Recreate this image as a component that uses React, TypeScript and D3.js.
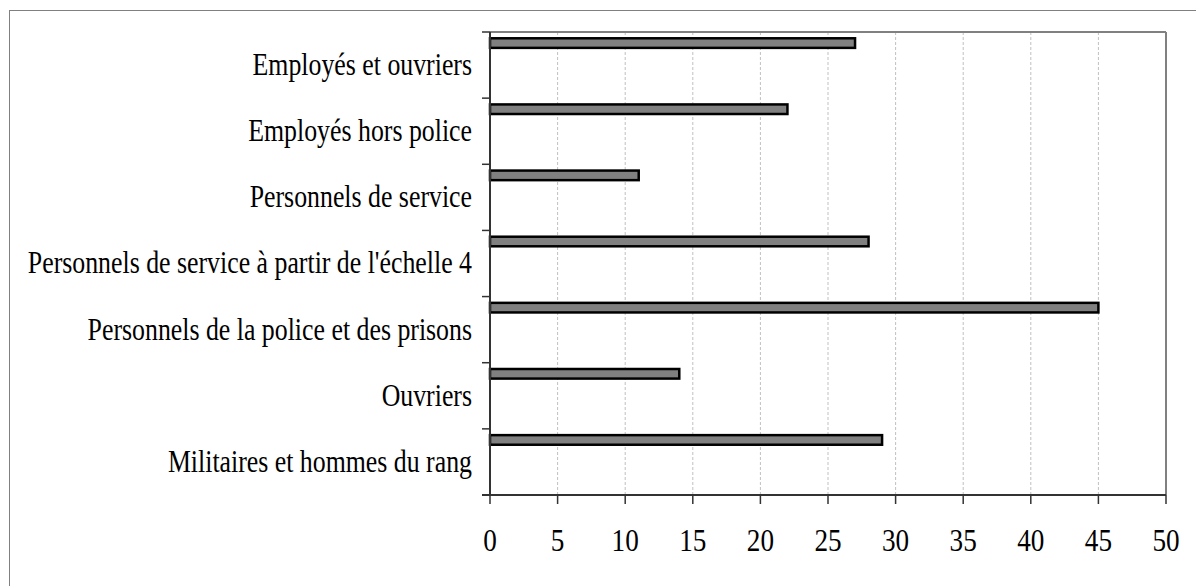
import React from 'react';
import * as d3 from 'd3';

const categories = [
  'Employés et ouvriers',
  'Employés hors police',
  'Personnels de service',
  "Personnels de service à partir de l'échelle 4",
  'Personnels de la police et des prisons',
  'Ouvriers',
  'Militaires et hommes du rang',
];
const values = [27, 22, 11, 28, 45, 14, 29];
const xTicks = [0, 5, 10, 15, 20, 25, 30, 35, 40, 45, 50];

const W = 1196;
const H = 586;
const left = 490;
const right = 1166;
const top = 32;
const bottom = 495;
const textStyle = { fontFamily: 'Liberation Serif', fill: '#000' };

const App = () => {
  const x = d3.scaleLinear().domain([0, 50]).range([left, right]);
  const y = d3.scaleBand<string>().domain(categories).range([top, bottom]).padding(0);
  const bw = y.bandwidth();
  const boundaries = categories.map((c) => y(c) as number).concat([bottom]);

  return (
    <svg
      width={W}
      height={H}
      style={{ position: 'absolute', left: 0, top: 0, background: '#fff' }}
    >
      {/* outer frame, runs off the page on right/bottom */}
      <rect x={9.5} y={10.5} width={1300} height={700} fill="none" stroke="#808080" strokeWidth={1} />

      {/* gridlines */}
      {xTicks.slice(1, -1).map((t) => (
        <line
          key={'g' + t}
          x1={x(t)}
          x2={x(t)}
          y1={top}
          y2={bottom}
          stroke="#c0c0c0"
          strokeWidth={1}
          strokeDasharray="3,2"
        />
      ))}

      {/* plot frame top/right */}
      <line x1={left} x2={right} y1={top} y2={top} stroke="#808080" strokeWidth={2} />
      <line x1={right} x2={right} y1={top} y2={bottom} stroke="#808080" strokeWidth={2} />

      {/* bars */}
      {categories.map((c, i) => (
        <rect
          key={c}
          x={x(0)}
          y={(y(c) as number) + bw * 0.095}
          width={x(values[i]) - x(0)}
          height={bw * 0.145}
          fill="#808080"
          stroke="#000"
          strokeWidth={2.5}
        />
      ))}

      {/* axes */}
      <line x1={left} x2={left} y1={top} y2={bottom} stroke="#333" strokeWidth={2} />
      <line x1={left - 8} x2={right} y1={bottom} y2={bottom} stroke="#333" strokeWidth={2} />
      {boundaries.map((b, i) => (
        <line key={'yt' + i} x1={left - 8} x2={left} y1={b} y2={b} stroke="#333" strokeWidth={1.5} />
      ))}
      {xTicks.map((t) => (
        <line key={'xt' + t} x1={x(t)} x2={x(t)} y1={bottom} y2={bottom + 9} stroke="#333" strokeWidth={1.5} />
      ))}

      {/* category labels */}
      {categories.map((c) => (
        <g key={'l' + c} transform={`translate(472,${(y(c) as number) + bw * 0.65}) scale(0.82,1)`}>
          <text textAnchor="end" style={{ ...textStyle, fontSize: 31.5 }}>
            {c}
          </text>
        </g>
      ))}

      {/* x tick labels */}
      {xTicks.map((t) => (
        <g key={'xl' + t} transform={`translate(${x(t)},551) scale(0.85,1)`}>
          <text textAnchor="middle" style={{ ...textStyle, fontSize: 32 }}>
            {t}
          </text>
        </g>
      ))}
    </svg>
  );
};

export default App;
